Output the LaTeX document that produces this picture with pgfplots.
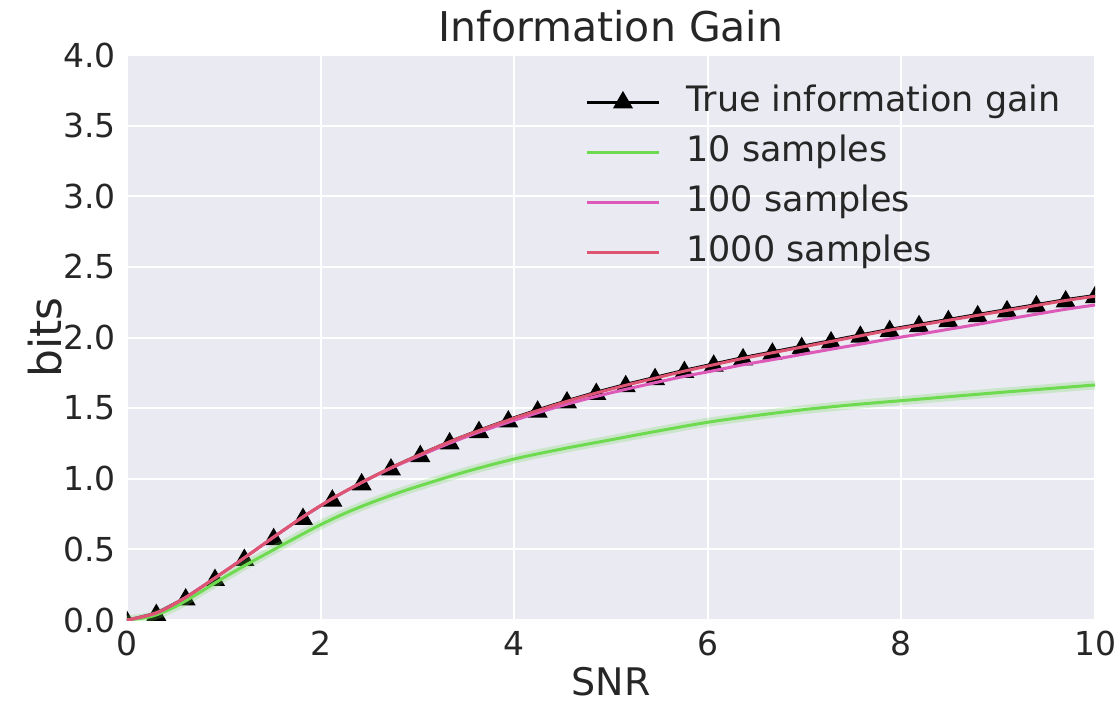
\documentclass[border=0pt]{standalone}
\usepackage{pgfplots}
\usepackage{pgfplotstable}
\pgfplotsset{compat=1.18}
\usepackage{fontspec}
\setmainfont{DejaVu Sans}
\definecolor{bgc}{HTML}{EAEAF2}
\definecolor{txt}{HTML}{262626}
\definecolor{cg}{RGB}{110,218,80}
\definecolor{cp}{RGB}{221,90,185}
\definecolor{cr}{RGB}{221,85,115}

\pgfplotstableread{
x      truev  s100   s1000
0.000  0.000  0.000  0.000
0.303  0.050  0.050  0.050
0.606  0.160  0.160  0.160
0.909  0.298  0.298  0.298
1.212  0.440  0.440  0.440
1.515  0.587  0.587  0.587
1.818  0.730  0.730  0.730
2.121  0.860  0.860  0.860
2.424  0.975  0.972  0.974
2.727  1.080  1.075  1.078
3.030  1.175  1.165  1.172
3.333  1.265  1.252  1.262
3.636  1.345  1.330  1.341
3.939  1.420  1.400  1.415
4.242  1.490  1.467  1.483
4.545  1.555  1.528  1.548
4.848  1.615  1.583  1.607
5.152  1.670  1.633  1.662
5.455  1.720  1.680  1.712
5.758  1.770  1.725  1.762
6.061  1.815  1.765  1.807
6.364  1.860  1.807  1.852
6.667  1.900  1.843  1.892
6.970  1.940  1.880  1.932
7.273  1.980  1.917  1.972
7.576  2.020  1.953  2.012
7.879  2.060  1.990  2.052
8.182  2.095  2.023  2.087
8.485  2.130  2.058  2.122
8.788  2.165  2.093  2.157
9.091  2.200  2.130  2.192
9.394  2.235  2.165  2.227
9.697  2.270  2.200  2.262
10.000 2.300  2.230  2.292
}\datamain

\pgfplotstableread{
x     y
0.00  0.000
0.25  0.025
0.50  0.095
0.75  0.195
1.00  0.300
1.25  0.398
1.50  0.492
1.75  0.585
2.00  0.675
2.25  0.755
2.50  0.825
2.75  0.888
3.00  0.945
3.50  1.050
4.00  1.140
4.50  1.212
5.00  1.276
5.50  1.340
6.00  1.400
6.50  1.448
7.00  1.490
7.50  1.524
8.00  1.553
9.00  1.610
10.00 1.664
}\datagreen

\begin{document}
\begin{tikzpicture}
\begin{axis}[
  at={(0,0)}, anchor=origin,
  scale only axis,
  width=484pt, height=282.5pt,
  xmin=0, xmax=10, ymin=0, ymax=4,
  clip marker paths=true,
  axis background/.style={fill=bgc},
  axis line style={draw=none},
  major tick length=0pt,
  grid=major,
  major grid style={white, line width=1pt},
  xtick={0,2,4,6,8,10},
  ytick={0,0.5,1,1.5,2,2.5,3,3.5,4},
  yticklabel style={/pgf/number format/fixed, /pgf/number format/fixed zerofill, /pgf/number format/precision=1, xshift=-2pt},
  /pgf/number format/assume math mode=true,
  tick label style={font=\fontsize{16.5}{18}\selectfont, text=txt},
  xticklabel style={yshift=-2pt},
  xlabel={SNR},
  ylabel={bits},
  xlabel style={font=\fontsize{19}{21}\selectfont, text=txt, yshift=1pt},
  ylabel style={font=\fontsize{22}{24}\selectfont, text=txt, yshift=-6pt},
  title={Information Gain},
  title style={font=\fontsize{20.5}{22}\selectfont, text=txt, yshift=-3pt},
  legend cell align=left,
  legend image code/.code={\draw[mark repeat=2,mark phase=2,#1] plot coordinates {(0pt,0pt) (18pt,0pt) (36pt,0pt)};},
  legend style={at={(0.467,0.952)}, anchor=north west, draw=none, fill=none,
    font=\fontsize{17.5}{19}\selectfont, text=txt, row sep=9pt,
    nodes={inner sep=0pt, text height=12.5pt, text depth=3.5pt},
    /tikz/every odd column/.append style={column sep=13pt}},
]
\addlegendimage{black, line width=1.2pt, mark=triangle*, mark size=4.6pt, mark options={solid}}
\addlegendentry{True information gain}
\addplot[black, line width=1.2pt, mark=triangle*, mark size=4.6pt, mark options={solid, yshift=-1.1pt}, forget plot] table[x=x, y=truev] {\datamain};
\addplot[cg, line width=4.5pt, opacity=0.25, smooth, forget plot] table {\datagreen};
\addplot[cg, line width=1.5pt, smooth] table {\datagreen};
\addlegendentry{10 samples}
\addplot[cp, line width=1.5pt, smooth] table[x=x, y=s100] {\datamain};
\addlegendentry{100 samples}
\addplot[cr, line width=1.5pt, smooth] table[x=x, y=s1000] {\datamain};
\addlegendentry{1000 samples}
\end{axis}
\pgfresetboundingbox
\useasboundingbox (-63.5pt,-41.5pt) rectangle (495pt,310pt);
\end{tikzpicture}
\end{document}
